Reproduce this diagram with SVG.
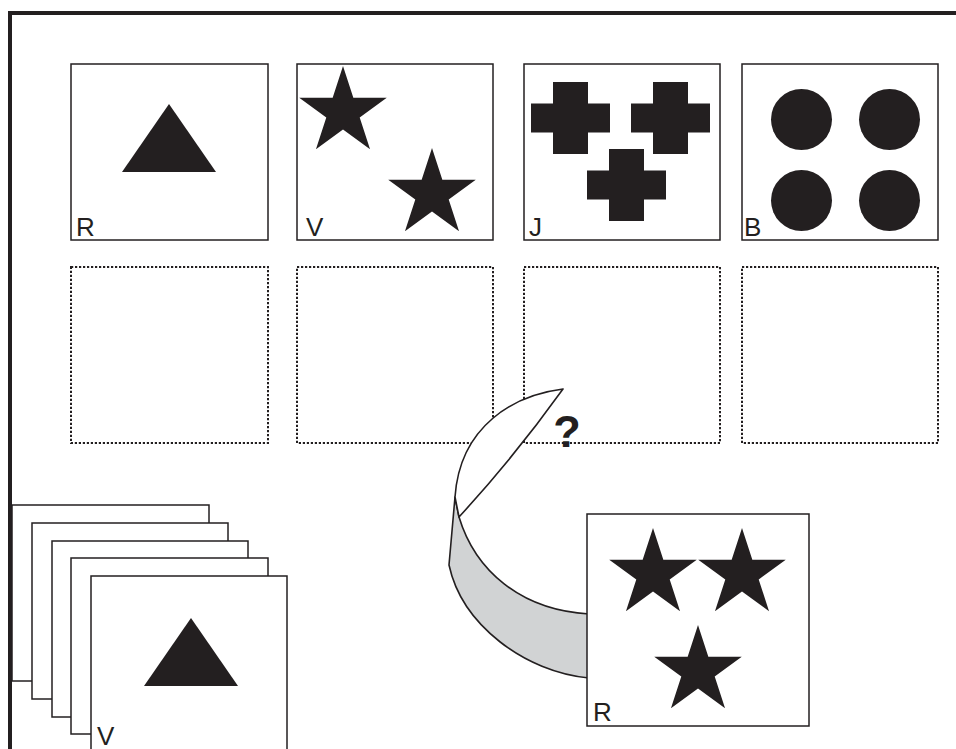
<svg xmlns="http://www.w3.org/2000/svg" xmlns:xlink="http://www.w3.org/1999/xlink" width="956" height="749" viewBox="0 0 956 749">
<style>
.card{fill:#fff;stroke:#231f20;stroke-width:1.5}
.slot{fill:none;stroke:#231f20;stroke-width:2;stroke-dasharray:2.2 1.8}
.shape{fill:#231f20}
.lbl{font-family:"Liberation Sans",Arial,sans-serif;font-size:26px;fill:#231f20}
.edge{stroke:#231f20;stroke-width:1.6;stroke-linejoin:round}
</style>
<defs>
<polygon id="star" points="0,-46 10.33,-14.21 43.75,-14.21 16.71,5.43 27.04,37.21 0,17.57 -27.04,37.21 -16.71,5.43 -43.75,-14.21 -10.33,-14.21"/>
<path id="cross" d="M-17.5,-36 H17.5 V-14.5 H39.5 V14.5 H17.5 V36 H-17.5 V14.5 H-39.5 V-14.5 H-17.5 Z"/>
<polygon id="tri" points="0,0 47,68 -47,68"/>
</defs>
<rect width="956" height="749" fill="#fff"/>
<path id="frame" d="M10,749 V13 H956" fill="none" stroke="#231f20" stroke-width="4"/>
<g id="card-R">
<rect class="card" x="71" y="64" width="197" height="176"/>
<use href="#tri" class="shape" x="169" y="104"/>
<text class="lbl" x="76" y="236">R</text>
</g>
<g id="card-V">
<rect class="card" x="297" y="64" width="196" height="176"/>
<use href="#star" class="shape" x="343" y="112"/>
<use href="#star" class="shape" x="432" y="194"/>
<text class="lbl" x="306" y="236">V</text>
</g>
<g id="card-J">
<rect class="card" x="524" y="64" width="196" height="176"/>
<use href="#cross" class="shape" x="570.5" y="118"/>
<use href="#cross" class="shape" x="670.5" y="118"/>
<use href="#cross" class="shape" x="626.5" y="185"/>
<text class="lbl" x="529" y="236">J</text>
</g>
<g id="card-B">
<rect class="card" x="742" y="64" width="196" height="176"/>
<circle class="shape" cx="801.5" cy="119.5" r="30.5"/>
<circle class="shape" cx="889.5" cy="119.5" r="30.5"/>
<circle class="shape" cx="801.5" cy="200.5" r="30.5"/>
<circle class="shape" cx="889.5" cy="200.5" r="30.5"/>
<text class="lbl" x="744" y="236">B</text>
</g>
<g id="slots">
<rect id="slot-1" class="slot" x="71" y="267" width="197" height="176"/>
<rect id="slot-2" class="slot" x="297" y="267" width="196" height="176"/>
<rect id="slot-3" class="slot" x="524" y="267" width="196" height="176"/>
<rect id="slot-4" class="slot" x="742" y="267" width="196" height="176"/>
</g>
<g id="curl">
<path class="edge" fill="#d1d3d4" d="M455,497 L449,565 C462,625 525,672 589,678 L589,614 C520,610 475,570 459,517 Z"/>
<path class="edge" fill="#fff" d="M563,389 C515,395 460,425 455,497 L459,517 Q515,456 563,389 Z"/>
<text x="567" y="447" text-anchor="middle" font-family="'Liberation Sans',Arial,sans-serif" font-weight="bold" font-size="45" fill="#231f20">?</text>
</g>
<g id="stack">
<rect class="card" x="12" y="505" width="197" height="176"/>
<rect class="card" x="32" y="523" width="196" height="176"/>
<rect class="card" x="52" y="541" width="196" height="176"/>
<rect class="card" x="71" y="558" width="197" height="176"/>
<rect class="card" x="91" y="576" width="196" height="176"/>
<use href="#tri" class="shape" x="191" y="618"/>
<text class="lbl" x="97" y="745" font-size="25">V</text>
</g>
<g id="card-R3">
<rect class="card" x="587" y="514" width="222" height="212"/>
<use href="#star" class="shape" x="653" y="574"/>
<use href="#star" class="shape" x="742" y="574"/>
<use href="#star" class="shape" x="698" y="671"/>
<text class="lbl" x="593" y="721">R</text>
</g>
</svg>
